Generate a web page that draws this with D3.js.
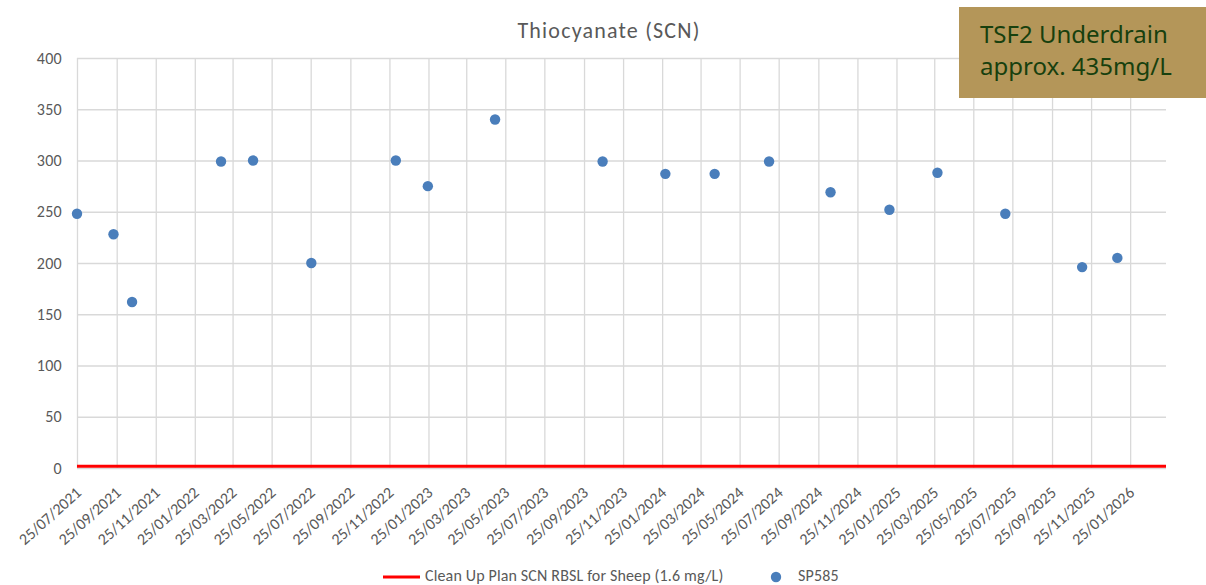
<!DOCTYPE html>
<html>
<head>
<meta charset="utf-8">
<script src="https://cdn.jsdelivr.net/npm/d3@7"></script>
<style>
  body { margin: 0; background: #fff; }
  svg { display: block; font-family: Calibri, Carlito, "Open Sans", sans-serif; }
</style>
</head>
<body>
<div id="chart"></div>
<script>
// Sample dates and SCN values (mg/L) for SP585.
const sampleDates = [
  '2021-07-25', '2021-09-20', '2021-10-19', '2022-03-07', '2022-04-26',
  '2022-07-26', '2022-12-05', '2023-01-24', '2023-05-09', '2023-10-24',
  '2024-01-30', '2024-04-16', '2024-07-10', '2024-10-14', '2025-01-14',
  '2025-03-30', '2025-07-14', '2025-11-11', '2026-01-05'
];
const sp585 = [
  248, 228, 162, 299, 300,
  200, 300, 275, 340, 299,
  287, 287, 299, 269, 252,
  288, 248, 196, 205
];

// Guideline value (line series).
const rbsl = 1.6;

// Axis ticks.
const xTickDates = [
  '2021-07-25', '2021-09-25', '2021-11-25',
  '2022-01-25', '2022-03-25', '2022-05-25', '2022-07-25', '2022-09-25', '2022-11-25',
  '2023-01-25', '2023-03-25', '2023-05-25', '2023-07-25', '2023-09-25', '2023-11-25',
  '2024-01-25', '2024-03-25', '2024-05-25', '2024-07-25', '2024-09-25', '2024-11-25',
  '2025-01-25', '2025-03-25', '2025-05-25', '2025-07-25', '2025-09-25', '2025-11-25',
  '2026-01-25'
];
const yTicks = [0, 50, 100, 150, 200, 250, 300, 350, 400];
const xDomain = ['2021-07-25', '2026-03-22'];

const seriesNames = ['Clean Up Plan SCN RBSL for Sheep (1.6 mg/L)', 'SP585'];
const noteLines = ['TSF2 Underdrain', 'approx. 435mg/L'];

const W = 1206, H = 585;
const margin = { top: 58, right: 40, bottom: 117, left: 77 },
  width = W - margin.left - margin.right,
  height = H - margin.top - margin.bottom;

const parse = d3.timeParse('%Y-%m-%d');
const fmt = d3.timeFormat('%d/%m/%Y');

const x = d3.scaleTime().domain(xDomain.map(parse)).range([0, width]);
const y = d3.scaleLinear().domain([0, 400]).range([height, 0]);

const svg = d3.select('#chart').append('svg')
  .attr('width', W)
  .attr('height', H);

const g = svg.append('g')
  .attr('transform', 'translate(' + margin.left + ',' + margin.top + ')');

// Gridlines
g.append('g')
  .attr('class', 'hgrid')
  .call(d3.axisLeft(y).tickValues(yTicks).tickSize(-width).tickFormat(''))
  .call(s => s.select('.domain').remove())
  .selectAll('line')
  .attr('stroke', '#d9d9d9')
  .attr('stroke-width', 1.3);

g.append('g')
  .attr('class', 'vgrid')
  .attr('transform', 'translate(0,' + height + ')')
  .call(d3.axisBottom(x).tickValues(xTickDates.map(parse)).tickSize(-height).tickFormat(''))
  .call(s => s.select('.domain').remove())
  .selectAll('line')
  .attr('stroke', '#d9d9d9')
  .attr('stroke-width', 1.3);

// Y axis labels
const yAxis = g.append('g')
  .call(d3.axisLeft(y).tickValues(yTicks).tickSize(0).tickPadding(15));
yAxis.select('.domain').remove();
yAxis.selectAll('text')
  .attr('fill', '#595959')
  .style('font-size', '16px')
  .style('letter-spacing', '0.3px')
  .style('font-family', 'Calibri, Carlito, "Open Sans", sans-serif');

// X axis labels (rotated)
const xAxis = g.append('g')
  .attr('transform', 'translate(0,' + height + ')')
  .call(d3.axisBottom(x).tickValues(xTickDates.map(parse)).tickSize(0).tickFormat(fmt));
xAxis.select('.domain').remove();
xAxis.selectAll('text')
  .attr('fill', '#595959')
  .style('font-size', '16px')
  .style('font-family', 'Calibri, Carlito, "Open Sans", sans-serif')
  .attr('text-anchor', 'end')
  .attr('y', 0)
  .attr('dy', '0.35em')
  .attr('transform', 'translate(1,22) rotate(-42)');

// Guideline series
g.append('line')
  .attr('x1', x(parse(xDomain[0])))
  .attr('x2', x(parse(xDomain[1])))
  .attr('y1', y(rbsl))
  .attr('y2', y(rbsl))
  .attr('stroke', '#ff0000')
  .attr('stroke-width', 3);

// SP585 points
g.append('g')
  .selectAll('circle')
  .data(sampleDates.map((d, i) => ({ date: parse(d), value: sp585[i] })))
  .join('circle')
  .attr('cx', d => x(d.date))
  .attr('cy', d => y(d.value))
  .attr('r', 5.2)
  .attr('fill', '#4a7ebb');

// Title
svg.append('text')
  .attr('x', 609)
  .attr('y', 38)
  .attr('text-anchor', 'middle')
  .attr('fill', '#595959')
  .style('font-size', '22px')
  .style('letter-spacing', '1.2px')
  .text('Thiocyanate (SCN)');

// Annotation box
const note = svg.append('g').attr('transform', 'translate(959,7)');
note.append('rect')
  .attr('width', 247)
  .attr('height', 91)
  .attr('fill', '#b49659');
note.selectAll('text')
  .data(noteLines)
  .join('text')
  .attr('x', 21)
  .attr('y', (d, i) => 36 + i * 32)
  .attr('fill', '#17400e')
  .style('font-family', '"Noto Sans", "Open Sans", sans-serif')
  .style('font-size', '24px')
  .text(d => d);

// Legend
const legend = svg.append('g').attr('transform', 'translate(0,577)');
legend.append('line')
  .attr('x1', 383).attr('x2', 420)
  .attr('y1', 0).attr('y2', 0)
  .attr('stroke', '#ff0000')
  .attr('stroke-width', 3);
legend.append('text')
  .attr('x', 425).attr('y', 4)
  .attr('fill', '#595959')
  .style('font-size', '16px')
  .style('letter-spacing', '0.15px')
  .text(seriesNames[0]);
legend.append('circle')
  .attr('cx', 776).attr('cy', 0)
  .attr('r', 5.2)
  .attr('fill', '#4a7ebb');
legend.append('text')
  .attr('x', 798).attr('y', 4)
  .attr('fill', '#595959')
  .style('font-size', '16px')
  .style('letter-spacing', '0.15px')
  .text(seriesNames[1]);
</script>
</body>
</html>
